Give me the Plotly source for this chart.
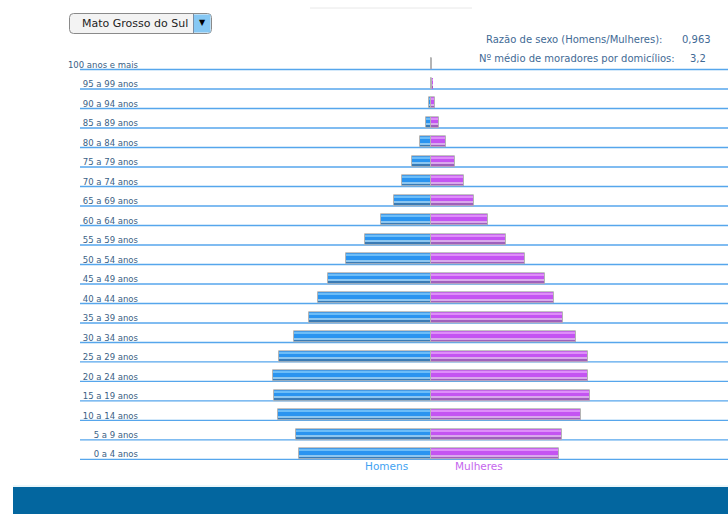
import plotly.graph_objects as go

# ---------------- data ----------------
age_groups = ["0 a 4 anos", "5 a 9 anos", "10 a 14 anos", "15 a 19 anos", "20 a 24 anos",
              "25 a 29 anos", "30 a 34 anos", "35 a 39 anos", "40 a 44 anos", "45 a 49 anos",
              "50 a 54 anos", "55 a 59 anos", "60 a 64 anos", "65 a 69 anos", "70 a 74 anos",
              "75 a 79 anos", "80 a 84 anos", "85 a 89 anos", "90 a 94 anos", "95 a 99 anos",
              "100 anos e mais"]
men_pct = [3.88, 3.96, 4.47, 4.61, 4.64, 4.45, 4.01, 3.58, 3.32, 3.01, 2.49,
           1.95, 1.46, 1.10, 0.85, 0.57, 0.32, 0.15, 0.06, 0.02, 0.01]
women_pct = [3.74, 3.81, 4.37, 4.63, 4.59, 4.57, 4.24, 3.86, 3.59, 3.32, 2.73,
             2.19, 1.67, 1.26, 0.97, 0.68, 0.42, 0.22, 0.10, 0.03, 0.015]
state_name = "Mato Grosso do Sul"
sex_ratio_label = "Razão de sexo (Homens/Mulheres):"
sex_ratio_value = "0,963"
residents_label = "Nº médio de moradores por domicílios:"
residents_value = "3,2"
legend_men = "Homens"
legend_women = "Mulheres"

W, H = 728, 514
def px(x):
    return x / W
def py(y):
    return 1 - y / H

men_neg = [-v for v in men_pct]

BAR_OFF = -0.25
BAR_W = 0.57
U = BAR_W / 11.0  # one pixel in y units approx

fig = go.Figure()

def add_layers(xvals, base, dark, light_low, light_top):
    fig.add_trace(go.Bar(y=age_groups, x=xvals, orientation="h", offset=BAR_OFF, width=BAR_W,
                         marker=dict(color=base, line=dict(width=0)), hoverinfo="skip"))
    fig.add_trace(go.Bar(y=age_groups, x=xvals, orientation="h", offset=BAR_OFF + 1 * U, width=2 * U,
                         marker=dict(color=dark, line=dict(width=0)), hoverinfo="skip"))
    fig.add_trace(go.Bar(y=age_groups, x=xvals, orientation="h", offset=BAR_OFF + 3 * U, width=1.5 * U,
                         marker=dict(color=light_low, line=dict(width=0)), hoverinfo="skip"))
    fig.add_trace(go.Bar(y=age_groups, x=xvals, orientation="h", offset=BAR_OFF + 8 * U, width=2 * U,
                         marker=dict(color=light_top, line=dict(width=0)), hoverinfo="skip"))
    fig.add_trace(go.Bar(y=age_groups, x=xvals, orientation="h", offset=BAR_OFF, width=BAR_W,
                         marker=dict(color="rgba(0,0,0,0)", line=dict(width=1, color="#b4b4b4")),
                         hoverinfo="skip"))

add_layers(men_neg, "#2a94f0", "#3a7bb5", "#8cc6f0", "#6cbdf8")
add_layers(women_pct, "#c454f2", "#a060bc", "#d9a8ec", "#de8ef9")

# plot geometry
x_left_px, x_center_px, x_right_px = 141.0, 431.3, 728.0
scale = 34.2  # px per percent
x_lo = -(x_center_px - x_left_px) / scale
x_hi = (x_right_px - x_center_px) / scale

row0_px = 454.5
pitch = 19.49
y_lo, y_hi = -1, len(age_groups)
y_dom = [py(row0_px - pitch * y_lo), py(row0_px - pitch * y_hi)]

shapes = []
for i, _ in enumerate(age_groups):
    shapes.append(dict(type="line", xref="paper", yref="y", x0=px(80), x1=1.0,
                       y0=i + BAR_OFF, y1=i + BAR_OFF, layer="below",
                       line=dict(color="#56a6ec", width=1.4)))
shapes.append(dict(type="line", xref="paper", yref="paper", x0=px(310), x1=px(472),
                   y0=py(8), y1=py(8), line=dict(color="#e8e8e8", width=1)))
shapes.append(dict(type="rect", xref="paper", yref="paper", x0=px(13), x1=1.0,
                   y0=0, y1=py(487), line=dict(width=0), fillcolor="#03669f"))
shapes.append(dict(type="line", xref="paper", yref="paper", x0=px(13), x1=1.0,
                   y0=py(486), y1=py(486), line=dict(color="#d6eef6", width=1)))

x0, x1, y0, y1, r = 69.5, 211.5, 13.5, 33.5, 4
def rr_path(x0, y0, x1, y1, r):
    return (f"M {px(x0 + r)},{py(y0)} L {px(x1 - r)},{py(y0)} Q {px(x1)},{py(y0)} {px(x1)},{py(y0 + r)} "
            f"L {px(x1)},{py(y1 - r)} Q {px(x1)},{py(y1)} {px(x1 - r)},{py(y1)} "
            f"L {px(x0 + r)},{py(y1)} Q {px(x0)},{py(y1)} {px(x0)},{py(y1 - r)} "
            f"L {px(x0)},{py(y0 + r)} Q {px(x0)},{py(y0)} {px(x0 + r)},{py(y0)} Z")
shapes.append(dict(type="path", xref="paper", yref="paper", path=rr_path(x0, y0, x1, y1, r),
                   fillcolor="#f3f3f3", line=dict(color="#8a8a8a", width=1)))
shapes.append(dict(type="rect", xref="paper", yref="paper", x0=px(194), x1=px(210.5),
                   y0=py(32.5), y1=py(14.5), fillcolor="#86c8f4", line=dict(width=0)))
shapes.append(dict(type="line", xref="paper", yref="paper", x0=px(193.5), x1=px(193.5),
                   y0=py(14), y1=py(33), line=dict(color="#7a8fa6", width=1)))

annotations = [
    dict(text=state_name, xref="paper", yref="paper", x=px(80), y=py(23.5), xanchor="left",
         yanchor="middle", showarrow=False, font=dict(family="DejaVu Sans", size=11, color="#1e1e1e")),
    dict(text="▼", xref="paper", yref="paper", x=px(202), y=py(23), xanchor="center",
         yanchor="middle", showarrow=False, font=dict(family="DejaVu Sans", size=8, color="#000000")),
    dict(text=sex_ratio_label, xref="paper", yref="paper", x=px(664), y=py(40), xanchor="right",
         yanchor="middle", showarrow=False, font=dict(family="DejaVu Sans", size=10, color="#3f6a95")),
    dict(text=sex_ratio_value, xref="paper", yref="paper", x=px(680), y=py(40), xanchor="left",
         yanchor="middle", showarrow=False, font=dict(family="DejaVu Sans", size=10, color="#3f6a95")),
    dict(text=residents_label, xref="paper", yref="paper", x=px(677), y=py(58), xanchor="right",
         yanchor="middle", showarrow=False, font=dict(family="DejaVu Sans", size=10, color="#3f6a95")),
    dict(text=residents_value, xref="paper", yref="paper", x=px(688), y=py(58), xanchor="left",
         yanchor="middle", showarrow=False, font=dict(family="DejaVu Sans", size=10, color="#3f6a95")),
    dict(text=legend_men, xref="paper", yref="paper", x=px(386.5), y=py(466), xanchor="center",
         yanchor="middle", showarrow=False, font=dict(family="DejaVu Sans", size=10.5, color="#3fa2f2")),
    dict(text=legend_women, xref="paper", yref="paper", x=px(478.5), y=py(466), xanchor="center",
         yanchor="middle", showarrow=False, font=dict(family="DejaVu Sans", size=10.5, color="#c566ee")),
]

fig.update_layout(
    width=W, height=H,
    margin=dict(l=0, r=0, t=0, b=0),
    paper_bgcolor="white", plot_bgcolor="white",
    barmode="overlay", bargap=0,
    showlegend=False,
    shapes=shapes,
    annotations=annotations,
    xaxis=dict(domain=[px(x_left_px), 1.0], range=[x_lo, x_hi], showgrid=False, zeroline=False,
               showticklabels=False, ticks="", showline=False, automargin=False, fixedrange=True),
    yaxis=dict(domain=y_dom, range=[y_lo, y_hi], type="category", categoryorder="array",
               categoryarray=age_groups, showgrid=False, zeroline=False, ticks="", showline=False,
               automargin=False, ticklabelstandoff=2,
               tickfont=dict(family="DejaVu Sans", size=8.5, color="#3b5f85"), fixedrange=True),
)

fig.write_html("out.html", config={"displayModeBar": False},
               post_script="document.body.style.margin='0';")
